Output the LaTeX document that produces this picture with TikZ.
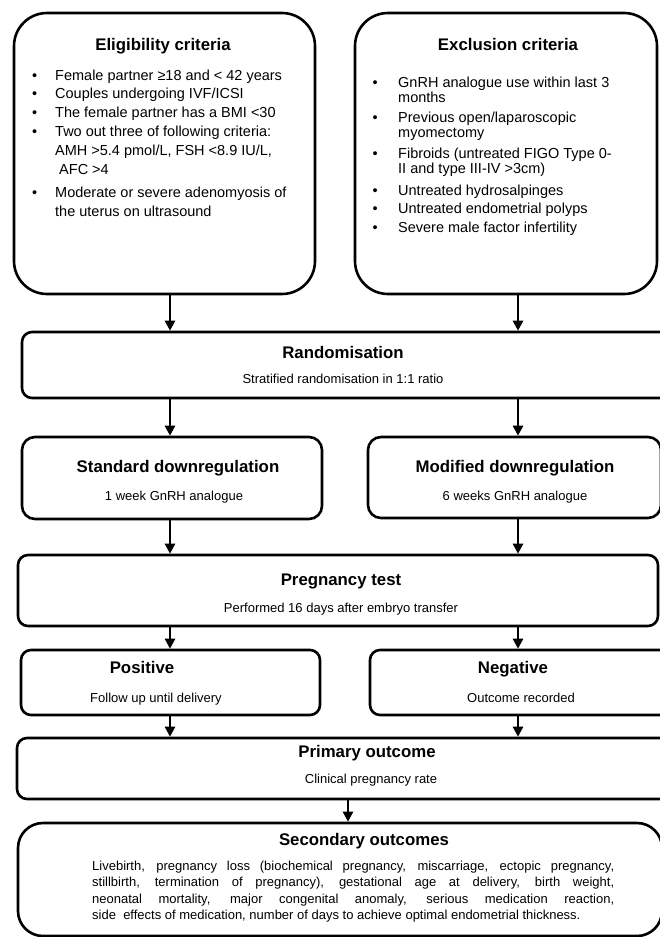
\documentclass[tikz,border=0pt]{standalone}
\usepackage{fontspec}
\setmainfont{Liberation Sans}
\usetikzlibrary{arrows.meta,positioning,calc,fit}

\newcommand{\headfont}{\fontsize{16.8}{20}\selectfont\bfseries}
\newcommand{\subfont}{\fontsize{13}{16.6}\selectfont}
\newcommand{\itemfont}{\fontsize{14.5}{18.8}\selectfont}
\newcommand{\tightitemfont}{\fontsize{14.5}{15}\selectfont}

\begin{document}
\begin{tikzpicture}[x=1pt,y=-1pt,
  box/.style={draw,line width=2.6pt,rounded corners=10pt,inner sep=0pt},
  bigbox/.style={box,rounded corners=33pt},
  head/.style={anchor=base,inner sep=0pt,font=\headfont},
  sub/.style={anchor=base,inner sep=0pt,font=\subfont},
  flow/.style={line width=2.6pt,-{Triangle[width=10pt,length=10pt]}}]

\clip (0,0) rectangle (660,937);
\fill[white] (0,0) rectangle (660,937);

% Columns of the connectors
\coordinate (colL) at (170,0);
\coordinate (colR) at (518,0);
\coordinate (colM) at (348,0);

% Criteria boxes
\node[bigbox,fit={(14,13) (315,294)}] (elig) {};
\node[bigbox,fit={(355,13) (657,294)}] (excl) {};

\node[head] (elig title) at (163,50.5) {Eligibility criteria};
\node[anchor=base west,inner sep=0pt] (elig list) at (32,80) {\itemfont
  \begin{tabular}[t]{@{}p{23pt}@{}l@{}}
  \textbullet & Female partner ≥18 and < 42 years\\
  \textbullet & Couples undergoing IVF/ICSI\\
  \textbullet & The female partner has a BMI <30\\
  \textbullet & Two out three of following criteria:\\
              & AMH >5.4 pmol/L, FSH <8.9 IU/L,\\
              & \ AFC >4\\[4.5pt]
  \textbullet & Moderate or severe adenomyosis of\\
              & the uterus on ultrasound
  \end{tabular}};

\node[head] (excl title) at (508,50) {Exclusion criteria};
\node[anchor=base west,inner sep=0pt] (excl list) at (372.5,87) {\tightitemfont
  \begin{tabular}[t]{@{}p{25.5pt}@{}l@{}}
  \textbullet & GnRH analogue use within last 3\\
              & months\\[5pt]
  \textbullet & Previous open/laparoscopic\\
              & myomectomy\\[6pt]
  \textbullet & Fibroids (untreated FIGO Type 0-\\
              & II and type III-IV >3cm)\\[7pt]
  \textbullet & Untreated hydrosalpinges\\[3pt]
  \textbullet & Untreated endometrial polyps\\[4pt]
  \textbullet & Severe male factor infertility
  \end{tabular}};

% Randomisation and arms
\node[box,fit={(22,332) (670,398)}] (rand) {};
\node[head] (rand title) at (343,358) {Randomisation};
\node[sub] (rand text) at (343,383) {Stratified randomisation in 1:1 ratio};

\node[box,rounded corners=13pt,fit={(22,437) (322,519)}] (std) {};
\node[head] (std title) at (178,472) {Standard downregulation};
\node[sub] (std text) at (174,500) {1 week GnRH analogue};

\node[box,rounded corners=13pt,fit={(368,437) (661,518)}] (mod) {};
\node[head] (mod title) at (515,472) {Modified downregulation};
\node[sub] (mod text) at (515,500) {6 weeks GnRH analogue};

% Pregnancy test and results
\node[box,fit={(18,555) (658,626)}] (preg) {};
\node[head] (preg title) at (341,585) {Pregnancy test};
\node[sub] (preg text) at (341,612) {Performed 16 days after embryo transfer};

\node[box,fit={(21,650) (320,715)}] (pos) {};
\node[head] (pos title) at (142,673) {Positive};
\node[sub] (pos text) at (156,702) {Follow up until delivery};

\node[box,fit={(370,650) (670,715)}] (neg) {};
\node[head] (neg title) at (513,673) {Negative};
\node[sub] (neg text) at (521,702) {Outcome recorded};

% Outcomes
\node[box,fit={(17,738) (670,799)}] (prim) {};
\node[head] (prim title) at (367,757) {Primary outcome};
\node[sub] (prim text) at (371,783) {Clinical pregnancy rate};

\node[box,rounded corners=25pt,fit={(18,823) (662,936)}] (sec) {};
\node[head] (sec title) at (364,845) {Secondary outcomes};
\node[anchor=north west,inner sep=0pt,text width=522pt,align=justify,font=\subfont] (sec text) at (92,860.5)
  {Livebirth, pregnancy loss (biochemical pregnancy, miscarriage, ectopic pregnancy,\linebreak
   stillbirth, termination of pregnancy), gestational age at delivery, birth weight,\linebreak
   neonatal mortality, major congenital anomaly, serious medication reaction,\linebreak
   side\ \ effects of medication, number of days to achieve optimal endometrial thickness.};

% Connectors
\draw[flow] (elig.south -| colL) -- (rand.north -| colL);
\draw[flow] (excl.south -| colR) -- (rand.north -| colR);
\draw[flow] (rand.south -| colL) -- (std.north -| colL);
\draw[flow] (rand.south -| colR) -- (mod.north -| colR);
\draw[flow] (std.south -| colL) -- (preg.north -| colL);
\draw[flow] (mod.south -| colR) -- (preg.north -| colR);
\draw[flow] (preg.south -| colL) -- (pos.north -| colL);
\draw[flow] (preg.south -| colR) -- (neg.north -| colR);
\draw[flow] (pos.south -| colL) -- (prim.north -| colL);
\draw[flow] (neg.south -| colR) -- (prim.north -| colR);
\draw[flow] (prim.south -| colM) -- (sec.north -| colM);

\end{tikzpicture}
\end{document}
